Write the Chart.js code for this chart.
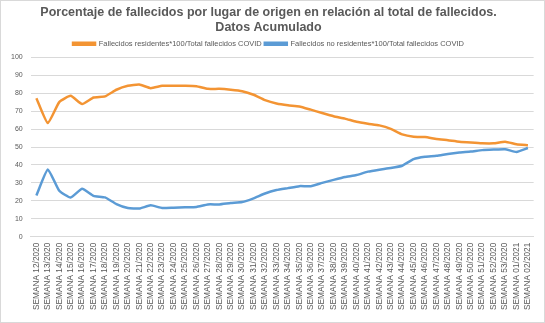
<!DOCTYPE html>
<html>
<head>
<meta charset="utf-8">
<script src="https://cdn.jsdelivr.net/npm/chart.js@4/dist/chart.umd.min.js"></script>
<style>
html,body{margin:0;padding:0;background:#fff;}
#wrap{position:absolute;left:0;top:0;width:543px;height:321px;border:1px solid #d9d9d9;}
canvas{display:block;}
</style>
</head>
<body>
<div id="wrap"><canvas id="c" width="543" height="321"></canvas></div>
<script>
const weeks = ["12/2020","13/2020","14/2020","15/2020","16/2020","17/2020","18/2020","19/2020","20/2020","21/2020",
"22/2020","23/2020","24/2020","25/2020","26/2020","27/2020","28/2020","29/2020","30/2020","31/2020",
"32/2020","33/2020","34/2020","35/2020","36/2020","37/2020","38/2020","39/2020","40/2020","41/2020",
"42/2020","43/2020","44/2020","45/2020","46/2020","47/2020","48/2020","49/2020","50/2020","51/2020",
"52/2020","53/2020","01/2021","02/2021"];
const categories = weeks.map(w => "SEMANA " + w);
const residentes = [77.3,63.4,75.1,78.6,74,77.7,78.3,82,84.2,84.9,
82.9,84.2,84.2,84.2,84,82.5,82.5,82,81.2,79.2,
76.2,74.3,73.3,72.7,70.9,69,67.2,65.9,64.1,63,
62.1,60.2,57.1,55.8,55.6,54.5,53.8,53,52.5,52.1,
52.1,53,51.6,51];
const noResidentes = [23,37.5,25.6,21.9,26.7,22.8,21.9,18.2,16,15.7,
17.5,16,16.2,16.4,16.6,18,18,18.8,19.3,21.4,
24.1,26,27.1,28.2,28.2,30,31.7,33.3,34.4,36.3,
37.4,38.3,39.6,43.3,44.6,45.1,46.2,47,47.5,48.3,
48.6,48.8,47.3,49.5];
const seriesNames = ["Fallecidos residentes*100/Total fallecidos COVID","Fallecidos no residentes*100/Total fallecidos COVID"];
const titleLines = ["Porcentaje de fallecidos por lugar de origen en relación al total de fallecidos.","Datos Acumulado"];

const FONT = "'Liberation Sans', Arial, sans-serif";
new Chart(document.getElementById('c'), {
  type: 'line',
  data: {
    labels: categories,
    datasets: [
      {label: seriesNames[0], data: residentes, borderColor: '#F39433', backgroundColor: '#F39433', borderWidth: 2.5, pointRadius: 0, tension: 0.15},
      {label: seriesNames[1], data: noResidentes, borderColor: '#5B9BD5', backgroundColor: '#5B9BD5', borderWidth: 2.5, pointRadius: 0, tension: 0.15}
    ]
  },
  options: {
    responsive: false,
    animation: false,
    layout: {padding: {left: 2, right: 10, top: 2, bottom: 6}},
    plugins: {
      title: {display: true, text: titleLines, color: '#595959', font: {family: FONT, size: 12.5, weight: 'bold'}, padding: {top: 2, bottom: 2}, lineHeight: 1.2},
      legend: {display: true, position: 'top', labels: {boxWidth: 22, boxHeight: 2, color: '#595959', font: {family: FONT, size: 7.5}, padding: 3}},
      tooltip: {enabled: false}
    },
    scales: {
      x: {
        offset: true,
        grid: {display: false, drawTicks: false},
        border: {display: true, color: '#d9d9d9'},
        ticks: {color: '#595959', font: {family: FONT, size: 8.3}, minRotation: 90, maxRotation: 90, autoSkip: false, padding: 6}
      },
      y: {
        min: 0, max: 100,
        grid: {color: '#d9d9d9', drawTicks: false},
        border: {display: false},
        ticks: {stepSize: 10, color: '#595959', font: {family: FONT, size: 7}, padding: 8}
      }
    }
  }
});
</script>
</body>
</html>
